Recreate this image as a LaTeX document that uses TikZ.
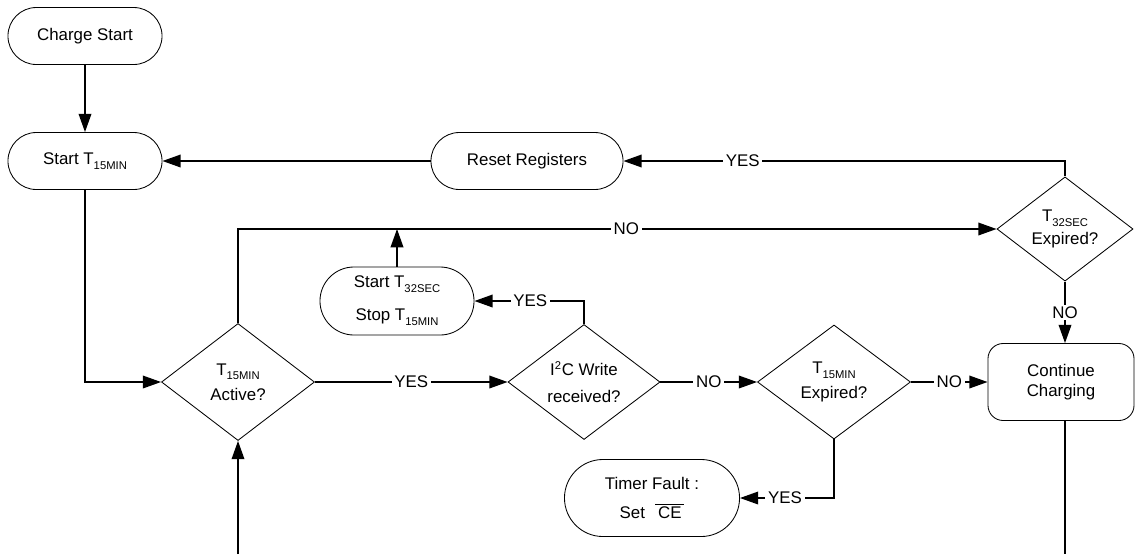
\documentclass[tikz,border=0pt]{standalone}
\usepackage{fontspec}
\setmainfont{Liberation Sans}
\usepackage{tikz}
\usetikzlibrary{arrows.meta,shapes.geometric}
\newcommand{\tsub}[1]{\raisebox{-3.5pt}{\fontsize{8}{9}\selectfont #1}}
\tikzset{
  ar/.style={-{Triangle[length=13pt,width=9pt]},line width=1.1pt},
  ln/.style={line width=1.1pt},
  term/.style={draw,line width=0.6pt,align=center,inner sep=0pt},
  dec/.style={draw,diamond,line width=0.6pt,align=center,inner sep=0pt},
  lbl/.style={fill=white,inner xsep=2pt,inner ysep=1pt}
}
\begin{document}
\begin{tikzpicture}[x=0.025cm,y=-0.025cm,font=\fontsize{12}{14}\selectfont]
\useasboundingbox (0,0) rectangle (1135,554);
\node[term,minimum width=3.85cm,minimum height=1.425cm,rounded corners=0.71cm] (cs) at (85,36) {Charge Start};
\node[term,minimum width=3.85cm,minimum height=1.425cm,rounded corners=0.71cm] (st) at (85,161) {Start T\tsub{15MIN}};
\node[term,minimum width=4.8cm,minimum height=1.425cm,rounded corners=0.71cm] (rr) at (527,161) {Reset Registers};
\node[term,minimum width=3.85cm,minimum height=1.7cm,rounded corners=0.85cm] (sts) at (397,301) {Start T\tsub{32SEC}\\[9.5pt]Stop T\tsub{15MIN}};
\node[term,minimum width=4.375cm,minimum height=1.925cm,rounded corners=0.96cm] (tf) at (652,498) {Timer Fault :\\[6pt]Set~\hspace{4pt}$\overline{\mbox{\,CE\,}}$};
\node[term,minimum width=3.65cm,minimum height=1.925cm,rounded corners=0.38cm] (cc) at (1061,382) {Continue\\Charging};
\node[dec,minimum width=3.825cm,minimum height=2.925cm] (da) at (238,382) {T\tsub{15MIN}\\[4pt]Active?};
\node[dec,minimum width=3.8cm,minimum height=2.875cm] (di) at (584,382) {I\textsuperscript{2}C Write\\[5pt]received?};
\node[dec,minimum width=3.825cm,minimum height=2.85cm] (de) at (834,382) {T\tsub{15MIN}\\[4pt]Expired?};
\node[dec,minimum width=3.4cm,minimum height=2.4cm] (dt) at (1065,229) {T\tsub{32SEC}\\[2pt]Expired?};
\coordinate (lpa) at (238,554);
\coordinate (lpc) at (1065,554);
\draw[ar] (cs.south) -- (st.north);
\draw[ar] (dt.north) |- node[lbl,pos=0.865]{YES} (rr.east);
\draw[ar] (rr.west) -- (st.east);
\draw[ar] (st.south) |- (da.west);
\draw[ar] (da.north) |- node[lbl,pos=0.756]{NO} (dt.west);
\draw[ar] (sts.north) -- (sts.north |- dt.west);
\draw[ar] (da.east) -- node[lbl]{YES} (di.west);
\draw[ar] (di.north) |- node[lbl,pos=0.745]{YES} (sts.east);
\draw[ar] (di.east) -- node[lbl]{NO} (de.west);
\draw[ar] (de.east) -- node[lbl]{NO} (cc.west);
\draw[ar] (de.south) |- node[lbl,pos=0.76]{YES} (tf.east);
\draw[ar] (dt.south) -- node[lbl]{NO} (dt.south |- cc.north);
\draw[ln] (dt.south |- cc.south) -- (lpc);
\draw[ar] (lpa) -- (da.south);
\end{tikzpicture}
\end{document}
